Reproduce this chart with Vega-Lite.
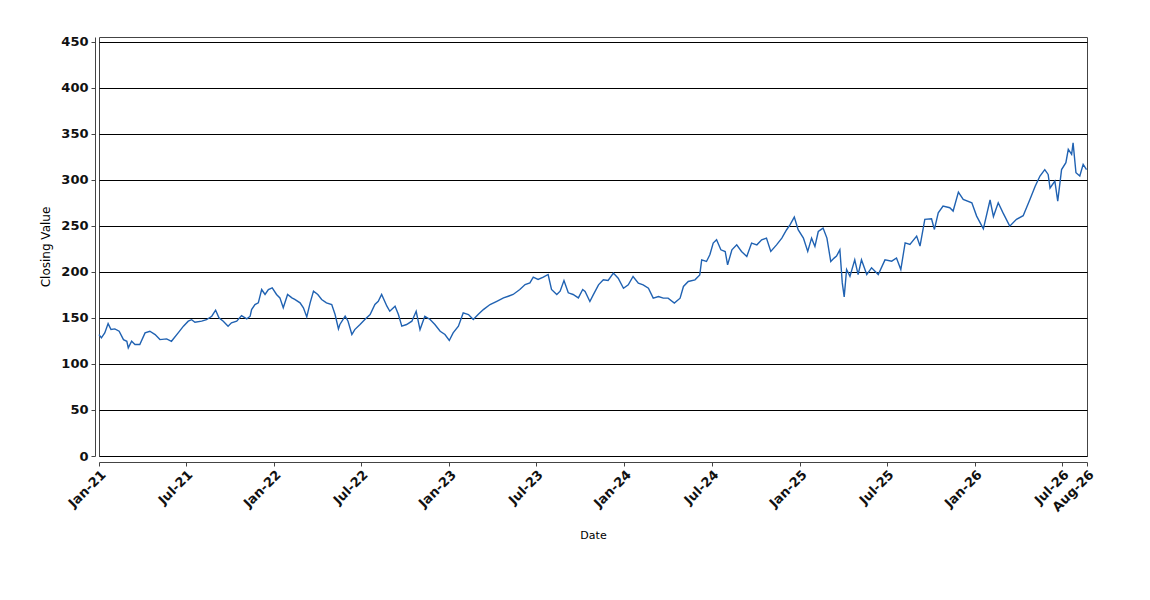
{
  "$schema": "https://vega.github.io/schema/vega-lite/v6.json",
  "width": 988,
  "height": 419,
  "autosize": "none",
  "padding": {"left": 99, "top": 37, "right": 63, "bottom": 144},
  "background": "white",
  "config": {
    "view": {"stroke": "#444444", "strokeWidth": 1},
    "font": "DejaVu Sans"
  },
  "data": {
    "values": [
      {"date": "2021-01-01", "close": 131.9},
      {"date": "2021-01-06", "close": 128.3},
      {"date": "2021-01-13", "close": 133.7},
      {"date": "2021-01-20", "close": 143.8},
      {"date": "2021-01-26", "close": 137.3},
      {"date": "2021-02-03", "close": 138},
      {"date": "2021-02-12", "close": 135.5},
      {"date": "2021-02-21", "close": 126.4},
      {"date": "2021-02-28", "close": 124.6},
      {"date": "2021-03-03", "close": 117.4},
      {"date": "2021-03-10", "close": 124.6},
      {"date": "2021-03-17", "close": 121},
      {"date": "2021-03-27", "close": 121},
      {"date": "2021-04-07", "close": 133.7},
      {"date": "2021-04-17", "close": 135.5},
      {"date": "2021-04-28", "close": 131.9},
      {"date": "2021-05-08", "close": 126.4},
      {"date": "2021-05-22", "close": 127.2},
      {"date": "2021-06-01", "close": 124.6},
      {"date": "2021-06-15", "close": 133.7},
      {"date": "2021-06-26", "close": 141},
      {"date": "2021-07-06", "close": 146.4},
      {"date": "2021-07-13", "close": 148},
      {"date": "2021-07-20", "close": 145.3},
      {"date": "2021-08-03", "close": 146.4},
      {"date": "2021-08-13", "close": 148},
      {"date": "2021-08-24", "close": 151.8},
      {"date": "2021-09-01", "close": 158.3},
      {"date": "2021-09-08", "close": 150},
      {"date": "2021-09-17", "close": 146.4},
      {"date": "2021-09-27", "close": 141},
      {"date": "2021-10-04", "close": 144.6},
      {"date": "2021-10-15", "close": 146.4},
      {"date": "2021-10-25", "close": 152.5},
      {"date": "2021-11-05", "close": 149},
      {"date": "2021-11-12", "close": 151.8},
      {"date": "2021-11-15", "close": 159},
      {"date": "2021-11-22", "close": 164.5},
      {"date": "2021-11-29", "close": 166.3},
      {"date": "2021-12-06", "close": 180.8},
      {"date": "2021-12-13", "close": 175.4},
      {"date": "2021-12-20", "close": 180.8},
      {"date": "2021-12-28", "close": 182.6},
      {"date": "2022-01-06", "close": 175.4},
      {"date": "2022-01-13", "close": 171.7},
      {"date": "2022-01-20", "close": 160.9},
      {"date": "2022-01-29", "close": 175.4},
      {"date": "2022-02-07", "close": 171.7},
      {"date": "2022-02-13", "close": 170},
      {"date": "2022-02-24", "close": 166.3},
      {"date": "2022-03-03", "close": 160.9},
      {"date": "2022-03-10", "close": 151},
      {"date": "2022-03-17", "close": 166.3},
      {"date": "2022-03-24", "close": 179},
      {"date": "2022-04-02", "close": 175.4},
      {"date": "2022-04-10", "close": 170},
      {"date": "2022-04-20", "close": 166.3},
      {"date": "2022-05-01", "close": 164.5},
      {"date": "2022-05-08", "close": 153.6},
      {"date": "2022-05-15", "close": 138},
      {"date": "2022-05-18", "close": 142.8},
      {"date": "2022-05-29", "close": 151.8},
      {"date": "2022-06-04", "close": 146.4},
      {"date": "2022-06-12", "close": 131.9},
      {"date": "2022-06-18", "close": 137.3},
      {"date": "2022-06-29", "close": 142.8},
      {"date": "2022-07-09", "close": 148.2},
      {"date": "2022-07-20", "close": 153.6},
      {"date": "2022-07-30", "close": 164.5},
      {"date": "2022-08-06", "close": 168},
      {"date": "2022-08-13", "close": 175.4},
      {"date": "2022-08-24", "close": 162.7},
      {"date": "2022-08-30", "close": 157.2},
      {"date": "2022-09-10", "close": 162.7},
      {"date": "2022-09-17", "close": 153.6},
      {"date": "2022-09-24", "close": 141},
      {"date": "2022-10-04", "close": 142.8},
      {"date": "2022-10-15", "close": 146.4},
      {"date": "2022-10-24", "close": 157.2},
      {"date": "2022-11-01", "close": 137.3},
      {"date": "2022-11-11", "close": 151.8},
      {"date": "2022-11-22", "close": 148.2},
      {"date": "2022-12-02", "close": 142.8},
      {"date": "2022-12-13", "close": 135.5},
      {"date": "2022-12-23", "close": 131.9},
      {"date": "2023-01-01", "close": 125.4},
      {"date": "2023-01-09", "close": 133.7},
      {"date": "2023-01-20", "close": 141},
      {"date": "2023-01-30", "close": 155.4},
      {"date": "2023-02-10", "close": 153.6},
      {"date": "2023-02-20", "close": 148.2},
      {"date": "2023-03-02", "close": 153.6},
      {"date": "2023-03-13", "close": 159},
      {"date": "2023-03-27", "close": 164.5},
      {"date": "2023-04-10", "close": 168},
      {"date": "2023-04-24", "close": 171.7},
      {"date": "2023-05-04", "close": 173.5},
      {"date": "2023-05-14", "close": 175.4},
      {"date": "2023-05-28", "close": 180.8},
      {"date": "2023-06-08", "close": 186.2},
      {"date": "2023-06-18", "close": 188},
      {"date": "2023-06-25", "close": 194.2},
      {"date": "2023-07-05", "close": 191.7},
      {"date": "2023-07-16", "close": 194.2},
      {"date": "2023-07-26", "close": 197.1},
      {"date": "2023-08-02", "close": 180.8},
      {"date": "2023-08-13", "close": 175.4},
      {"date": "2023-08-20", "close": 179},
      {"date": "2023-08-28", "close": 190.6},
      {"date": "2023-09-06", "close": 177.2},
      {"date": "2023-09-16", "close": 175.4},
      {"date": "2023-09-27", "close": 171.7},
      {"date": "2023-10-06", "close": 180.8},
      {"date": "2023-10-11", "close": 178.6},
      {"date": "2023-10-21", "close": 167.8},
      {"date": "2023-10-28", "close": 175},
      {"date": "2023-11-08", "close": 185.9},
      {"date": "2023-11-18", "close": 191.3},
      {"date": "2023-11-28", "close": 190.6},
      {"date": "2023-12-09", "close": 198.6},
      {"date": "2023-12-19", "close": 193.1},
      {"date": "2023-12-30", "close": 182.2},
      {"date": "2024-01-09", "close": 185.9},
      {"date": "2024-01-19", "close": 194.9},
      {"date": "2024-01-30", "close": 187.7},
      {"date": "2024-02-09", "close": 185.9},
      {"date": "2024-02-20", "close": 182.2},
      {"date": "2024-03-01", "close": 171.4},
      {"date": "2024-03-12", "close": 173.2},
      {"date": "2024-03-22", "close": 171.4},
      {"date": "2024-04-01", "close": 171.4},
      {"date": "2024-04-14", "close": 166},
      {"date": "2024-04-26", "close": 171.4},
      {"date": "2024-05-03", "close": 184.1},
      {"date": "2024-05-13", "close": 189.5},
      {"date": "2024-05-27", "close": 191.3},
      {"date": "2024-06-06", "close": 196.7},
      {"date": "2024-06-10", "close": 213},
      {"date": "2024-06-20", "close": 211.2},
      {"date": "2024-06-27", "close": 218.5},
      {"date": "2024-07-04", "close": 231.2},
      {"date": "2024-07-11", "close": 234.8},
      {"date": "2024-07-20", "close": 223.9},
      {"date": "2024-07-29", "close": 222.1},
      {"date": "2024-08-03", "close": 207.6},
      {"date": "2024-08-12", "close": 223.9},
      {"date": "2024-08-22", "close": 229.3},
      {"date": "2024-09-01", "close": 222.1},
      {"date": "2024-09-12", "close": 216.7},
      {"date": "2024-09-22", "close": 231.2},
      {"date": "2024-10-03", "close": 229.3},
      {"date": "2024-10-13", "close": 234.8},
      {"date": "2024-10-23", "close": 236.6},
      {"date": "2024-11-01", "close": 222.1},
      {"date": "2024-11-13", "close": 229.3},
      {"date": "2024-11-24", "close": 236.6},
      {"date": "2024-12-04", "close": 245.7},
      {"date": "2024-12-11", "close": 251.1},
      {"date": "2024-12-20", "close": 259.4},
      {"date": "2024-12-28", "close": 245.7},
      {"date": "2025-01-08", "close": 236.6},
      {"date": "2025-01-17", "close": 222.1},
      {"date": "2025-01-25", "close": 236.6},
      {"date": "2025-02-01", "close": 227.5},
      {"date": "2025-02-08", "close": 243.8},
      {"date": "2025-02-18", "close": 247.5},
      {"date": "2025-02-26", "close": 236.6},
      {"date": "2025-03-06", "close": 211.2},
      {"date": "2025-03-13", "close": 214.9},
      {"date": "2025-03-18", "close": 217},
      {"date": "2025-03-25", "close": 224},
      {"date": "2025-03-30", "close": 188},
      {"date": "2025-04-03", "close": 172.8},
      {"date": "2025-04-08", "close": 202.5},
      {"date": "2025-04-15", "close": 195},
      {"date": "2025-04-25", "close": 213},
      {"date": "2025-05-02", "close": 197},
      {"date": "2025-05-09", "close": 213},
      {"date": "2025-05-20", "close": 197},
      {"date": "2025-05-30", "close": 204.3},
      {"date": "2025-06-13", "close": 197},
      {"date": "2025-06-27", "close": 213},
      {"date": "2025-07-11", "close": 211.6},
      {"date": "2025-07-21", "close": 215},
      {"date": "2025-07-30", "close": 202.5},
      {"date": "2025-08-08", "close": 231.5},
      {"date": "2025-08-18", "close": 229.7},
      {"date": "2025-09-01", "close": 238.8},
      {"date": "2025-09-08", "close": 228},
      {"date": "2025-09-18", "close": 257},
      {"date": "2025-10-02", "close": 257.6},
      {"date": "2025-10-08", "close": 246},
      {"date": "2025-10-16", "close": 264},
      {"date": "2025-10-26", "close": 271.4},
      {"date": "2025-11-09", "close": 269.6},
      {"date": "2025-11-16", "close": 266},
      {"date": "2025-11-27", "close": 286.6},
      {"date": "2025-12-07", "close": 278.6},
      {"date": "2025-12-25", "close": 275},
      {"date": "2026-01-04", "close": 260.5},
      {"date": "2026-01-18", "close": 246.7},
      {"date": "2026-02-01", "close": 278},
      {"date": "2026-02-08", "close": 260},
      {"date": "2026-02-18", "close": 275},
      {"date": "2026-02-28", "close": 264},
      {"date": "2026-03-14", "close": 249.6},
      {"date": "2026-03-28", "close": 257},
      {"date": "2026-04-11", "close": 261},
      {"date": "2026-04-25", "close": 278.6},
      {"date": "2026-05-06", "close": 293},
      {"date": "2026-05-16", "close": 304},
      {"date": "2026-05-26", "close": 311},
      {"date": "2026-06-02", "close": 305.8},
      {"date": "2026-06-06", "close": 291},
      {"date": "2026-06-16", "close": 298.5},
      {"date": "2026-06-22", "close": 276.8},
      {"date": "2026-06-30", "close": 311},
      {"date": "2026-07-09", "close": 318.5},
      {"date": "2026-07-14", "close": 333},
      {"date": "2026-07-21", "close": 327.5},
      {"date": "2026-07-24", "close": 340},
      {"date": "2026-07-30", "close": 307.6},
      {"date": "2026-08-07", "close": 304},
      {"date": "2026-08-14", "close": 316.7},
      {"date": "2026-08-21", "close": 311}
    ]
  },
  "mark": {"type": "line", "color": "#2062b2", "strokeWidth": 1.4},
  "encoding": {
    "x": {
      "field": "date",
      "type": "temporal",
      "scale": {"domain": [{"year": 2021, "month": 1, "date": 1}, {"year": 2026, "month": 8, "date": 22}]},
      "axis": {
        "title": "Date",
        "titleFont": "DejaVu Sans",
        "titleFontSize": 11,
        "titleFontWeight": "normal",
        "titleColor": "black",
        "titlePadding": 15,
        "values": [
          {"year": 2021, "month": 1, "date": 1},
          {"year": 2021, "month": 7, "date": 1},
          {"year": 2022, "month": 1, "date": 1},
          {"year": 2022, "month": 7, "date": 1},
          {"year": 2023, "month": 1, "date": 1},
          {"year": 2023, "month": 7, "date": 1},
          {"year": 2024, "month": 1, "date": 1},
          {"year": 2024, "month": 7, "date": 1},
          {"year": 2025, "month": 1, "date": 1},
          {"year": 2025, "month": 7, "date": 1},
          {"year": 2026, "month": 1, "date": 1},
          {"year": 2026, "month": 7, "date": 1},
          {"year": 2026, "month": 8, "date": 22}
        ],
        "format": "%b-%y",
        "labelAngle": -45,
        "labelAlign": "right",
        "labelBaseline": "top",
        "labelFont": "DejaVu Sans",
        "labelFontSize": 13,
        "labelFontWeight": "bold",
        "labelColor": "#111111",
        "labelOverlap": false,
        "labelBound": false,
        "labelFlush": false,
        "labelPadding": 2,
        "grid": false,
        "offset": 6,
        "tickSize": 4,
        "tickColor": "#444444",
        "domainColor": "#444444"
      }
    },
    "y": {
      "field": "close",
      "type": "quantitative",
      "scale": {"domain": [0, 455], "nice": false, "zero": true},
      "axis": {
        "title": "Closing Value",
        "titleFont": "DejaVu Sans",
        "titleFontSize": 12,
        "titleFontWeight": "normal",
        "titleColor": "black",
        "titlePadding": 8,
        "values": [0, 50, 100, 150, 200, 250, 300, 350, 400, 450],
        "labelFont": "DejaVu Sans",
        "labelFontSize": 13,
        "labelFontWeight": "bold",
        "labelColor": "#111111",
        "labelPadding": 3,
        "grid": true,
        "gridColor": "black",
        "gridWidth": 1,
        "gridOpacity": 1,
        "offset": 4,
        "tickSize": 4,
        "tickColor": "#444444",
        "domainColor": "#444444"
      }
    }
  }
}
